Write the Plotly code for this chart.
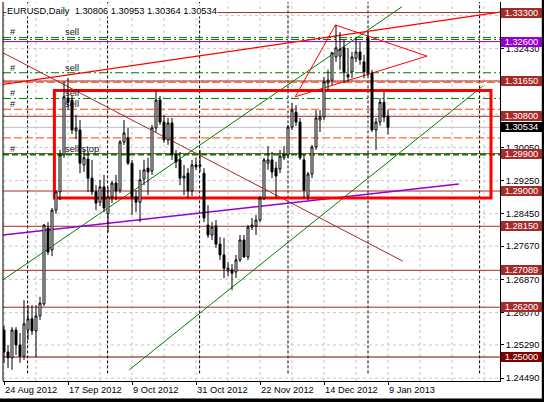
import plotly.graph_objects as go

# ---------------- data ----------------
open_ = [1.2565,1.2512,1.2498,1.2565,1.2529,1.2502,1.2565,1.2592,1.2563,1.2599,
         1.2628,1.2811,1.2758,1.2854,1.2898,1.2987,1.3124,1.3119,1.3045,1.3047,
         1.2963,1.2977,1.2931,1.2898,1.2873,1.2910,1.2845,1.2886,1.2919,1.2902,
         1.3018,1.3028,1.2967,1.2886,1.2873,1.2929,1.2955,1.2948,1.3052,1.3119,
         1.3066,1.3023,1.3064,1.2987,1.2975,1.2931,1.2943,1.2900,1.2963,1.2960,
         1.2943,1.2818,1.2794,1.2816,1.2772,1.2746,1.2707,1.2710,1.2705,1.2734,
         1.2782,1.2741,1.2813,1.2816,1.2830,1.2883,1.2967,1.2975,1.2955,1.2953,
         1.2980,1.2987,1.3054,1.3090,1.3066,1.2975,1.2888,1.2941,1.3006,1.3071,
         1.3078,1.3160,1.3167,1.3223,1.3225,1.3245,1.3180,1.3187,1.3220,1.3235,
         1.3211,1.3269,1.3184,1.3047,1.3066,1.3114,1.30806]
high = [1.2575,1.2529,1.2572,1.2572,1.2558,1.2637,1.2625,1.2625,1.2625,1.2645,
        1.2820,1.2825,1.2859,1.2902,1.2999,1.3163,1.3172,1.3129,1.3083,1.3071,
        1.2999,1.2994,1.2975,1.2914,1.2927,1.2939,1.2910,1.2924,1.2939,1.3023,
        1.3071,1.3052,1.2975,1.2902,1.2951,1.2975,1.2980,1.3059,1.3141,1.3129,
        1.3083,1.3076,1.3076,1.2999,1.2994,1.2963,1.2955,1.2975,1.2980,1.2999,
        1.2955,1.2866,1.2825,1.2830,1.2789,1.2787,1.2729,1.2724,1.2746,1.2794,
        1.2794,1.2818,1.2835,1.2842,1.2888,1.2980,1.3008,1.2994,1.2970,1.2999,
        1.3008,1.3059,1.3112,1.3107,1.3076,1.2987,1.2946,1.3011,1.3095,1.3095,
        1.3175,1.3192,1.3235,1.3300,1.3283,1.3264,1.3245,1.3235,1.3269,1.3259,
        1.3228,1.3283,1.3192,1.3076,1.3124,1.3139,1.30953]
low = [1.2486,1.2473,1.2469,1.2505,1.2486,1.2493,1.2541,1.2553,1.2500,1.2589,
       1.2623,1.2746,1.2743,1.2845,1.2878,1.2980,1.3095,1.3037,1.3025,1.2943,
       1.2946,1.2898,1.2890,1.2854,1.2864,1.2849,1.2801,1.2871,1.2878,1.2895,
       1.3011,1.2963,1.2842,1.2849,1.2825,1.2914,1.2890,1.2939,1.3042,1.3059,
       1.3016,1.3011,1.2975,1.2955,1.2914,1.2890,1.2883,1.2888,1.2951,1.2946,
       1.2825,1.2787,1.2782,1.2763,1.2734,1.2690,1.2695,1.2661,1.2690,1.2729,
       1.2739,1.2734,1.2806,1.2794,1.2825,1.2878,1.2951,1.2931,1.2883,1.2943,
       1.2975,1.2980,1.3047,1.3057,1.2975,1.2883,1.2878,1.2931,1.2999,1.3042,
       1.3071,1.3143,1.3155,1.3211,1.3192,1.3160,1.3163,1.3172,1.3211,1.3204,
       1.3172,1.3177,1.3042,1.2999,1.3057,1.3066,1.30364]
close = [1.2512,1.2498,1.2565,1.2529,1.2502,1.2580,1.2592,1.2563,1.2599,1.2630,
         1.2818,1.2753,1.2854,1.2898,1.2987,1.3127,1.3114,1.3047,1.3052,1.2967,
         1.2980,1.2931,1.2898,1.2871,1.2910,1.2859,1.2886,1.2919,1.2900,1.3018,
         1.3040,1.2967,1.2886,1.2873,1.2927,1.2951,1.2946,1.3052,1.3119,1.3066,
         1.3023,1.3064,1.2987,1.2970,1.2931,1.2936,1.2900,1.2963,1.2958,1.2963,
         1.2835,1.2794,1.2813,1.2772,1.2746,1.2714,1.2714,1.2702,1.2734,1.2782,
         1.2741,1.2813,1.2818,1.2830,1.2883,1.2975,1.2975,1.2946,1.2936,1.2984,
         1.2987,1.3054,1.3095,1.3066,1.2980,1.2902,1.2941,1.3006,1.3076,1.3078,
         1.3163,1.3167,1.3233,1.3245,1.3242,1.3187,1.3175,1.3223,1.3235,1.3216,
         1.3187,1.3184,1.3047,1.3066,1.3114,1.3078,1.30534]

date_tick_pos = [0, 16, 32, 48, 64, 80, 96]
date_tick_text = ["24 Aug 2012", "17 Sep 2012", "9 Oct 2012", "31 Oct 2012",
                  "22 Nov 2012", "14 Dec 2012", "9 Jan 2013"]

price_ticks = [1.24490, 1.25290, 1.26070, 1.26870, 1.27670, 1.28450, 1.29250,
               1.30050, 1.30850, 1.31650, 1.32430, 1.33230]
# tick labels fully hidden behind the coloured price boxes in the picture
price_tick_text = ["1.24490", "1.25290", "1.26070", "1.26870", "1.27670", "1.28450",
                   "1.29250", "1.30050", "", "", "1.32430", ""]

brown_levels = [1.33300, 1.31650, 1.30800, 1.29900, 1.29000, 1.28150, 1.27089, 1.26200]
maroon_levels = [1.25000]
purple_levels = [1.32600]
order_levels = [1.3270, 1.3265, 1.3185, 1.3123]     # green dash-dot pending orders
stop_levels = [1.2988]                              # green "sell stop"
sltp_levels = [1.3162, 1.3097, 1.3028]              # orange-red dashed
bid = 1.30534

# right-hand price boxes
box_prices = [1.33300, 1.32600, 1.31650, 1.30800, 1.30534, 1.29900, 1.29000,
              1.28150, 1.27089, 1.26200, 1.25000]
box_colors = ["#A52A2A", "#9400D3", "#A52A2A", "#A52A2A", "#000000", "#A52A2A",
              "#A52A2A", "#A52A2A", "#A52A2A", "#A52A2A", "#800000"]

# trend objects: (bar0, price0, bar1, price1)
red_trend = (-0.25, 1.3157, 124.0, 1.3331)
brown_trend = (-0.25, 1.3233, 99.7, 1.2731)
green_upper = (-0.25, 1.2686, 99.5, 1.3344)
green_lower = (31.3, 1.2469, 119.7, 1.3153)
purple_trend = (-0.25, 1.2794, 113.7, 1.2917)
triangle = [(72.8, 1.3127), (82.85, 1.3300), (105.75, 1.3225)]
rectangle = (12.6, 1.2883, 121.75, 1.3142)
separators = [5.9, 25.9, 48.9, 71.0, 91.0, 118.9]

order_labels = [("sell", 1.3270), ("sell", 1.3185), ("sell", 1.3123),
                ("sell", 1.3097), ("sell stop", 1.2988)]

# ---------------- layout geometry ----------------
W, H = 544, 402
ML, MR, MT, MB = 3, 44, 2, 21
PW, PH = W - ML - MR, H - MT - MB
FONT = "Liberation Sans, Arial, sans-serif"
FS = 9.3


def pxx(px):
    return (px - ML) / PW


def pxy(py):
    return (H - MB - py) / PH


shapes = []
# grid
for gx in range(0, 121, 8):
    shapes.append(dict(type="line", xref="x", yref="paper", x0=gx, x1=gx, y0=0, y1=1,
                       line=dict(color="#C8C8C8", width=1, dash="3px,3px"), layer="below"))
for gy in price_ticks:
    shapes.append(dict(type="line", xref="paper", yref="y", x0=0, x1=1, y0=gy, y1=gy,
                       line=dict(color="#C8C8C8", width=1, dash="3px,3px"), layer="below"))
# separators
for sx in separators:
    shapes.append(dict(type="line", xref="x", yref="paper", x0=sx, x1=sx, y0=0.02, y1=1,
                       line=dict(color="black", width=1, dash="3px,2px"), layer="below"))


def hl(p, color, width=1, dash="solid"):
    shapes.append(dict(type="line", xref="paper", yref="y", x0=0, x1=1, y0=p, y1=p,
                       line=dict(color=color, width=width, dash=dash), layer="below"))


hl(bid, "#C0C0C0")
for p in brown_levels:
    hl(p, "#A52A2A")
for p in maroon_levels:
    hl(p, "#800000")
for p in purple_levels:
    hl(p, "#9400D3")
for p in sltp_levels:
    hl(p, "#FF4500", 1, "8px,3px")
for p in order_levels:
    hl(p, "#008000", 1, "8px,3px,2px,3px")
for p in stop_levels:
    hl(p, "#008000", 2, "6px,3px")


def seg(t, color, width=1):
    shapes.append(dict(type="line", xref="x", yref="y", x0=t[0], y0=t[1], x1=t[2], y1=t[3],
                       line=dict(color=color, width=width), layer="below"))


seg(brown_trend, "#A52A2A")
seg(green_upper, "#008000")
seg(green_lower, "#008000")
seg(purple_trend, "#9400D3", 1.5)
seg(red_trend, "#FF0000", 1.2)
for i in range(3):
    a, b = triangle[i], triangle[(i + 1) % 3]
    seg((a[0], a[1], b[0], b[1]), "#FF0000")
shapes.append(dict(type="rect", xref="x", yref="y", x0=rectangle[0], y0=rectangle[1],
                   x1=rectangle[2], y1=rectangle[3], line=dict(color="#FF0000", width=3),
                   fillcolor="rgba(0,0,0,0)", layer="below"))

# frame
shapes.append(dict(type="line", xref="paper", yref="paper", x0=0, x1=0, y0=0, y1=1,
                   line=dict(color="black", width=1)))
shapes.append(dict(type="rect", xref="paper", yref="paper", x0=pxx(0), x1=pxx(545),
                   y0=pxy(402), y1=pxy(398.5), line=dict(width=0), fillcolor="black"))
shapes.append(dict(type="rect", xref="paper", yref="paper", x0=pxx(541.8), x1=pxx(545),
                   y0=pxy(402), y1=pxy(0), line=dict(width=0), fillcolor="black"))

annotations = []
annotations.append(dict(xref="paper", yref="paper", x=pxx(6), y=pxy(11), xanchor="left",
                        yanchor="middle", showarrow=False, bgcolor="white", borderpad=0,
                        text="EURUSD,Daily\u00a0\u00a0%.5f %.5f %.5f %.5f" % (open_[-1], high[-1], low[-1], close[-1]),
                        font=dict(family=FONT, size=FS, color="black")))
for txt, p in order_labels:
    annotations.append(dict(xref="paper", yref="y", x=pxx(8), y=p, yshift=5,
                            xanchor="left", yanchor="middle", showarrow=False, text="#",
                            font=dict(family=FONT, size=FS, color="#202030")))
    annotations.append(dict(xref="paper", yref="y", x=pxx(62.5), y=p, yshift=5,
                            xanchor="left", yanchor="middle", showarrow=False, text=txt,
                            font=dict(family=FONT, size=FS, color="#101020")))
for pos, txt in zip(date_tick_pos, date_tick_text):
    annotations.append(dict(xref="x", yref="paper", x=max(pos - 0.3, -0.24), y=0, yshift=-2,
                            xanchor="left", yanchor="top", showarrow=False, text=txt,
                            font=dict(family=FONT, size=FS, color="black")))
for p, c in zip(box_prices, box_colors):
    annotations.append(dict(xref="paper", yref="y", x=1, xshift=1, y=p, xanchor="left",
                            yanchor="middle", showarrow=False, text="%.5f" % p,
                            bgcolor=c, bordercolor=c, borderwidth=1, borderpad=0,
                            width=39, height=8,
                            font=dict(family=FONT, size=FS, color="white")))

fig = go.Figure(go.Candlestick(
    x=list(range(len(open_))), open=open_, high=high, low=low, close=close,
    increasing=dict(line=dict(color="black", width=1), fillcolor="white"),
    decreasing=dict(line=dict(color="black", width=1), fillcolor="black"),
    whiskerwidth=0, hoverinfo="skip", showlegend=False))

fig.update_layout(
    width=W, height=H, margin=dict(l=ML, r=MR, t=MT, b=MB),
    paper_bgcolor="white", plot_bgcolor="white", showlegend=False,
    shapes=shapes, annotations=annotations,
    font=dict(family=FONT, size=FS, color="black"),
    xaxis=dict(range=[-0.25, 124.0], rangeslider=dict(visible=False), showgrid=False,
               zeroline=False, tickvals=date_tick_pos, showticklabels=False,
               ticks="outside", ticklen=3, tickcolor="black", showline=True,
               linecolor="black", linewidth=1, fixedrange=True),
    yaxis=dict(range=[1.24422, 1.33554], side="right", showgrid=False, zeroline=False,
               tickvals=price_ticks, ticktext=price_tick_text,
               ticks="outside", ticklen=3, tickcolor="black", showline=True,
               linecolor="black", linewidth=1,
               tickfont=dict(family=FONT, size=FS, color="black"), fixedrange=True),
)

fig.write_html("out.html", config={"displayModeBar": False},
               post_script="document.body.style.margin='0';document.body.style.padding='0';")
